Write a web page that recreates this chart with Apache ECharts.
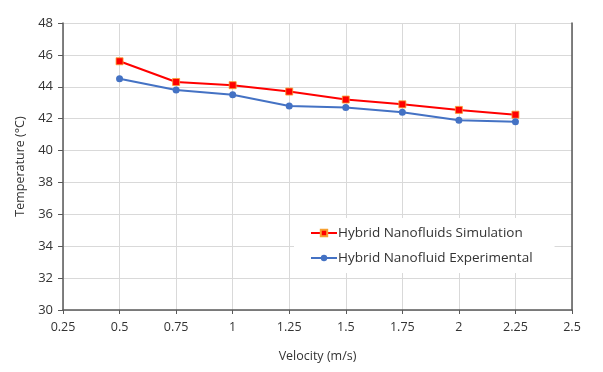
<!DOCTYPE html>
<html>
<head>
<meta charset="utf-8">
<script src="https://cdn.jsdelivr.net/npm/echarts@6/dist/echarts.min.js"></script>
<style>
  html, body { margin: 0; padding: 0; background: #fff; }
  #main { width: 603px; height: 372px; }
</style>
</head>
<body>
<div id="main"></div>
<script>
// velocities (m/s)
const velocity = [0.5, 0.75, 1, 1.25, 1.5, 1.75, 2, 2.25];
// temperatures (°C)
const simulation = [45.6, 44.3, 44.1, 43.7, 43.2, 42.9, 42.55, 42.25];
const experimental = [44.5, 43.8, 43.5, 42.8, 42.7, 42.4, 41.9, 41.8];
const seriesNames = ["Hybrid Nanofluids Simulation", "Hybrid Nanofluid Experimental"];

const font = "'Open Sans', 'Noto Sans', sans-serif";
const axisColor = "#595959";
const gridColor = "#d9d9d9";

var chart = echarts.init(document.getElementById("main"));
chart.setOption({
  animation: false,
  textStyle: { fontFamily: font },
  grid: { left: 63, right: 31, top: 23, bottom: 62 },
  legend: {
    orient: "vertical",
    left: 294,
    top: 218,
    padding: [8, 22, 8, 16],
    backgroundColor: "#fff",
    itemWidth: 26,
    itemHeight: 8,
    itemGap: 11,
    textStyle: { fontFamily: font, fontSize: 13.5, color: "#333", padding: [0, 0, 0, -4] },
    data: seriesNames,
  },
  xAxis: {
    type: "value",
    min: 0.25,
    max: 2.5,
    interval: 0.25,
    name: "Velocity (m/s)",
    nameLocation: "middle",
    nameGap: 40,
    nameTextStyle: { fontSize: 12.5, color: "#333" },
    axisLine: { onZero: false, lineStyle: { color: axisColor, width: 1.5 } },
    axisTick: { show: true, inside: false, length: 4, lineStyle: { color: axisColor } },
    axisLabel: { fontSize: 12.5, color: "#333", margin: 11 },
    splitLine: { show: true, lineStyle: { color: gridColor } },
  },
  yAxis: [
    {
      type: "value",
      min: 30,
      max: 48,
      interval: 2,
      name: "Temperature (°C)",
      nameLocation: "middle",
      nameGap: 34,
      nameTextStyle: { fontSize: 12.5, color: "#333" },
      axisLine: { show: true, lineStyle: { color: axisColor, width: 1.5 } },
      axisTick: { show: true, inside: false, length: 5, lineStyle: { color: axisColor } },
      axisLabel: { fontSize: 13, color: "#333", margin: 10 },
      splitLine: { show: true, lineStyle: { color: gridColor } },
    },
    {
      type: "value",
      min: 30,
      max: 48,
      interval: 2,
      position: "right",
      axisLine: { show: true, lineStyle: { color: axisColor, width: 1.5 } },
      axisTick: { show: false },
      axisLabel: { show: false },
      splitLine: { show: false },
    },
  ],
  series: [
    {
      name: seriesNames[0],
      type: "line",
      data: velocity.map((v, i) => [v, simulation[i]]),
      symbol: "rect",
      symbolSize: 7,
      lineStyle: { color: "#ff0000", width: 2 },
      itemStyle: { color: "#ff0000", borderColor: "#f7a030", borderWidth: 0.8 },
    },
    {
      name: seriesNames[1],
      type: "line",
      data: velocity.map((v, i) => [v, experimental[i]]),
      symbol: "circle",
      symbolSize: 7,
      lineStyle: { color: "#4472c4", width: 2 },
      itemStyle: { color: "#4472c4" },
    },
  ],
});
</script>
</body>
</html>
